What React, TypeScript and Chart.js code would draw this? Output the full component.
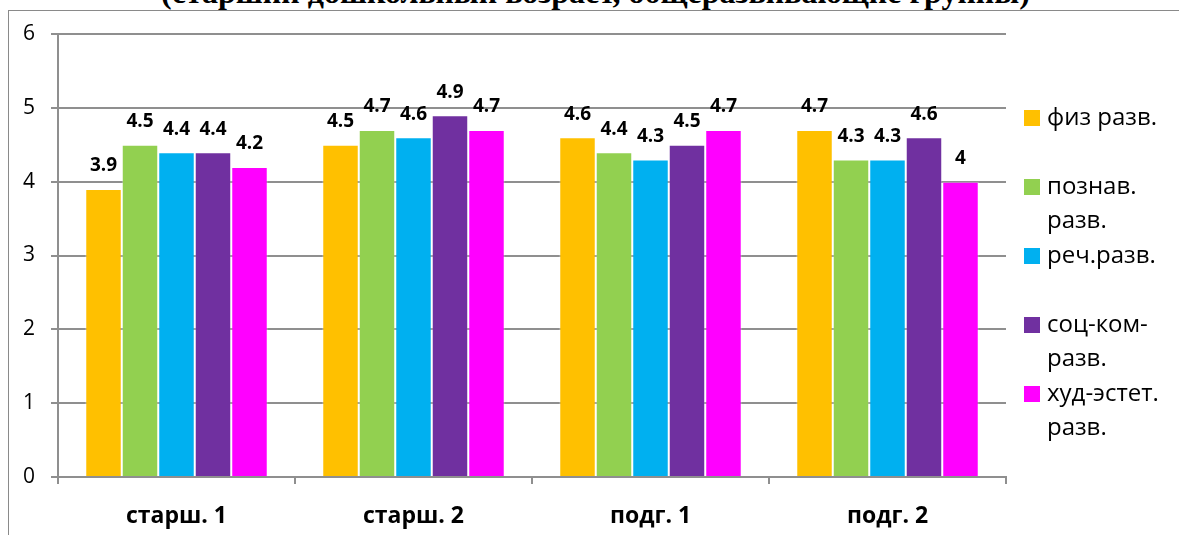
import React, { useEffect, useRef } from "react";
import { Chart, registerables } from "chart.js";

Chart.register(...registerables);

const titleText = "(старший дошкольный возраст, общеразвивающие группы)";
const categories = ["старш. 1", "старш. 2", "подг. 1", "подг. 2"];
const seriesNames = ["физ разв.", "познав. разв.", "реч.разв.", "соц-ком-разв.", "худ-эстет. разв."];
const legendLines = [["физ разв."], ["познав.", "разв."], ["реч.разв."], ["соц-ком-", "разв."], ["худ-эстет.", "разв."]];
const seriesColors = ["#FFC000", "#92D050", "#00B0F0", "#7030A0", "#FF00FF"];
const fizValues = [3.9, 4.5, 4.6, 4.7];
const poznValues = [4.5, 4.7, 4.4, 4.3];
const rechValues = [4.4, 4.6, 4.3, 4.3];
const soczValues = [4.4, 4.9, 4.5, 4.6];
const hudValues = [4.2, 4.7, 4.7, 4.0];
const seriesValues = [fizValues, poznValues, rechValues, soczValues, hudValues];
const yTicks = [0, 1, 2, 3, 4, 5, 6];

const FONT = "'Open Sans', 'Liberation Sans', sans-serif";
const GRID = "#8f8f8f";

const valueLabels = {
  id: "valueLabels",
  afterDatasetsDraw(chart: any) {
    const ctx = chart.ctx;
    ctx.save();
    ctx.font = `bold 19px ${FONT}`;
    ctx.fillStyle = "#000";
    ctx.textAlign = "center";
    ctx.textBaseline = "middle";
    chart.data.datasets.forEach((ds: any, i: number) => {
      const meta = chart.getDatasetMeta(i);
      meta.data.forEach((el: any, j: number) => {
        ctx.fillText(String(ds.data[j]), el.x, el.y - 23);
      });
    });
    ctx.restore();
  },
};

const sideLegend = {
  id: "sideLegend",
  afterDraw(chart: any) {
    const ctx = chart.ctx;
    const area = chart.chartArea;
    ctx.save();
    ctx.font = `24px ${FONT}`;
    ctx.textBaseline = "middle";
    ctx.textAlign = "left";
    const x0 = area.right + 18;
    let y = 118;
    legendLines.forEach((lines, i) => {
      ctx.fillStyle = seriesColors[i];
      ctx.fillRect(x0, y - 8, 16, 16);
      ctx.fillStyle = "#000";
      lines.forEach((ln, k) => {
        ctx.fillText(ln, x0 + 23, y + k * 34);
      });
      y += 69;
    });
    ctx.restore();
  },
};

export default function App() {
  const ref = useRef<HTMLCanvasElement | null>(null);

  useEffect(() => {
    if (!ref.current) return;
    const chart = new Chart(ref.current, {
      type: "bar",
      data: {
        labels: categories,
        datasets: seriesNames.map((name, i) => ({
          label: name,
          data: seriesValues[i],
          backgroundColor: seriesColors[i],
          borderColor: "rgba(255,255,255,0.35)",
          borderWidth: 1,
          categoryPercentage: 0.77,
          barPercentage: 1,
        })),
      },
      options: {
        responsive: false,
        animation: false,
        events: [],
        layout: { padding: { left: 0, top: 34, right: 173, bottom: 0 } },
        plugins: {
          legend: { display: false },
          title: { display: false },
          tooltip: { enabled: false },
        },
        scales: {
          x: {
            afterFit: (s: any) => {
              s.height = 58;
            },
            grid: {
              display: true,
              drawOnChartArea: false,
              drawTicks: true,
              tickLength: 7,
              color: GRID,
              lineWidth: 2,
              offset: true,
            },
            border: { display: true, color: GRID, width: 2 },
            ticks: {
              padding: 19,
              color: "#000",
              font: { family: FONT, size: 23, weight: "bold" },
            },
          },
          y: {
            min: 0,
            max: 6,
            afterFit: (s: any) => {
              s.width = 58;
            },
            afterBuildTicks: (s: any) => {
              s.ticks = yTicks.map((v) => ({ value: v }));
            },
            grid: {
              display: true,
              drawOnChartArea: true,
              drawTicks: true,
              tickLength: 7,
              color: GRID,
              lineWidth: 2,
            },
            border: { display: true, color: GRID, width: 2 },
            ticks: {
              padding: 16,
              color: "#000",
              font: { family: FONT, size: 21 },
            },
          },
        },
      },
      plugins: [valueLabels, sideLegend],
    });
    return () => chart.destroy();
  }, []);

  return (
    <div
      style={{
        position: "fixed",
        left: 0,
        top: 0,
        width: 1179,
        height: 535,
        overflow: "hidden",
        background: "#fff",
      }}
    >
      <div
        style={{
          position: "absolute",
          left: 8,
          top: 10,
          width: 1400,
          height: 800,
          border: "1px solid #8a8a8a",
          boxSizing: "border-box",
        }}
      />
      <div
        style={{
          position: "absolute",
          left: 0,
          width: 1179,
          top: -24,
          textAlign: "center",
          fontFamily: "'Liberation Serif', 'Times New Roman', serif",
          fontWeight: "bold",
          fontSize: 32,
          lineHeight: "32px",
          whiteSpace: "nowrap",
          color: "#000",
        }}
      >
        <span style={{ position: "relative", left: 6 }}>{titleText}</span>
      </div>
      <canvas
        ref={ref}
        width={1179}
        height={535}
        style={{ position: "absolute", left: 0, top: 0, width: 1179, height: 535 }}
      />
    </div>
  );
}
